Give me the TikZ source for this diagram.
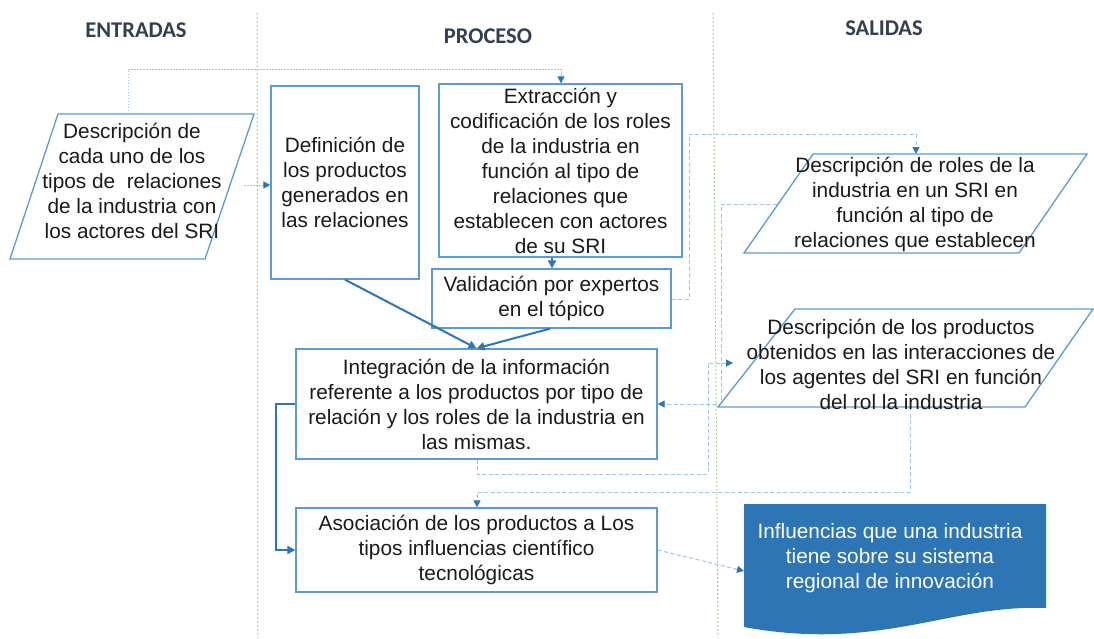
\documentclass[tikz,border=0pt]{standalone}
\usepackage{fontspec}
\setmainfont{Liberation Sans}
\newfontfamily\hdrfont{Carlito}
\usetikzlibrary{arrows.meta}
\definecolor{boxblue}{HTML}{5B9BD5}
\definecolor{darkblue}{HTML}{2E75B6}
\definecolor{lightblue}{HTML}{9DC3E6}
\definecolor{hdrcol}{HTML}{333F50}
\definecolor{greenline}{HTML}{A9D18E}
\definecolor{txtcol}{HTML}{1A1A1A}
\begin{document}
\begin{tikzpicture}[x=1pt,y=-1pt,
  box/.style={draw=boxblue, line width=1.3pt, fill=white, align=center, inner sep=2pt,
    font=\fontsize{20.8}{25}\selectfont, text=txtcol},
  txt/.style={align=center, inner sep=0pt, font=\fontsize{20.8}{25}\selectfont, text=txtcol},
  para/.style={draw=boxblue, line width=1.3pt, fill=white},
  hdr/.style={font=\hdrfont\bfseries\fontsize{22.5}{26}\selectfont, text=hdrcol},
  solidarrow/.style={draw=darkblue, line width=2pt, -{Triangle[length=8pt,width=8pt]}},
  dashconn/.style={draw=lightblue, line width=1pt, dash pattern=on 4pt off 2.5pt,
    -{Triangle[length=7pt,width=7pt,color=darkblue]}},
  dotconn/.style={draw=lightblue, line width=1pt, dash pattern=on 1.5pt off 1.5pt,
    -{Triangle[length=7pt,width=7pt,color=darkblue]}},
  sepline/.style={draw=greenline, line width=1pt, dash pattern=on 2pt off 2pt}]

\useasboundingbox (0,0) rectangle (1094,638);

% column separators
\draw[sepline] (257,13) -- (258,638);
\draw[sepline] (713,13) -- (718,638);

% headers
\node[hdr] (h1) at (136,30) {ENTRADAS};
\node[hdr] (h2) at (488,36) {PROCESO};
\node[hdr] (h3) at (884,28) {SALIDAS};

% boxes
\node[box, minimum width=148pt, minimum height=193pt] (def) at (345,182.5)
  {Definición de\\los productos\\generados en\\las relaciones};
\node[box, minimum width=243pt, minimum height=173pt] (ext) at (560.5,170.5)
  {Extracción y\\codificación de los roles\\de la industria en\\función al tipo de\\relaciones que\\establecen con actores\\de su SRI};
\node[box, minimum width=239pt, minimum height=59pt] (val) at (551.5,298.5)
  {Validación por expertos\\en el tópico};
\node[box, minimum width=361pt, minimum height=110pt] (integ) at (476.5,404)
  {Integración de la información\\referente a los productos por tipo de\\relación y los roles de la industria en\\las mismas.};
\node[box, minimum width=361pt, minimum height=84pt] (asoc) at (476.5,550)
  {Asociación de los productos a Los\\tipos influencias científico\\tecnológicas};

% connectors (behind parallelograms)
\coordinate (c1a) at (128,114);
\coordinate (c1b) at (128,69);
\coordinate (c1c) at (561,69);
\draw[dotconn] (c1a) -- (c1b) -- (c1c) -- (ext.north -| c1c);

\coordinate (c2a) at (244,185);
\draw[dotconn] (c2a) -- (def.west |- c2a);

\draw[solidarrow] (ext.south -| 552,0) -- (val.north -| 552,0);
\draw[solidarrow] (def.south) -- (integ.north);
\draw[solidarrow] (val.south -| 550,0) -- (integ.north);

\coordinate (c6a) at (689,299);
\coordinate (c6b) at (689,134);
\coordinate (c6c) at (916,134);
\coordinate (c6d) at (916,154);
\draw[dashconn] (val.east |- c6a) -- (c6a) -- (c6b) -- (c6c) -- (c6d);

\coordinate (c7a) at (783,204);
\coordinate (c7b) at (721,204);
\coordinate (c7c) at (721,404);
\draw[dashconn] (c7a) -- (c7b) -- (c7c) -- (integ.east |- c7c);

\coordinate (c8a) at (477,474);
\coordinate (c8b) at (708,474);
\coordinate (c8c) at (708,363);
\coordinate (c8d) at (733,363);
\draw[dashconn] (integ.south -| c8a) -- (c8a) -- (c8b) -- (c8c) -- (c8d);

\coordinate (c9a) at (910,407);
\coordinate (c9b) at (910,492);
\coordinate (c9c) at (477,492);
\draw[dashconn] (c9a) -- (c9b) -- (c9c) -- (asoc.north -| c9c);

\coordinate (c10a) at (276,404);
\coordinate (c10b) at (276,550);
\draw[solidarrow] (integ.west) -- (c10a) -- (c10b) -- (asoc.west);

\coordinate (c11) at (744,571);
\draw[dashconn] (asoc.east) -- (c11);

% parallelograms
\draw[para] (58,114) -- (254,114) -- (205,259) -- (10,259) -- cycle;
\node[txt] (pin) at (132,181)
  {Descripción de\\cada uno de los\\tipos de~ relaciones\\de la industria con\\los actores del SRI};

\draw[para] (813,154) -- (1087,154) -- (1019,253) -- (744,253) -- cycle;
\node[txt] (pout1) at (915,204.5)
  {Descripción de roles de la\\industria en un SRI en\\función al tipo de\\relaciones que establecen};

\draw[para] (795,309) -- (1093,309) -- (1025,407) -- (718,407) -- cycle;
\node[txt] (pout2) at (901,364.5)
  {Descripción de los productos\\obtenidos en las interacciones de\\los agentes del SRI en función\\del rol la industria};

% document shape
\fill[darkblue] (744,504) -- (1046,504) -- (1046,608)
  .. controls (950,604) and (880,652) .. (744,627) -- cycle;
\node[txt, text=white] (docn) at (890,558)
  {Influencias que una industria\\tiene sobre su sistema\\regional de innovación};

\end{tikzpicture}
\end{document}
